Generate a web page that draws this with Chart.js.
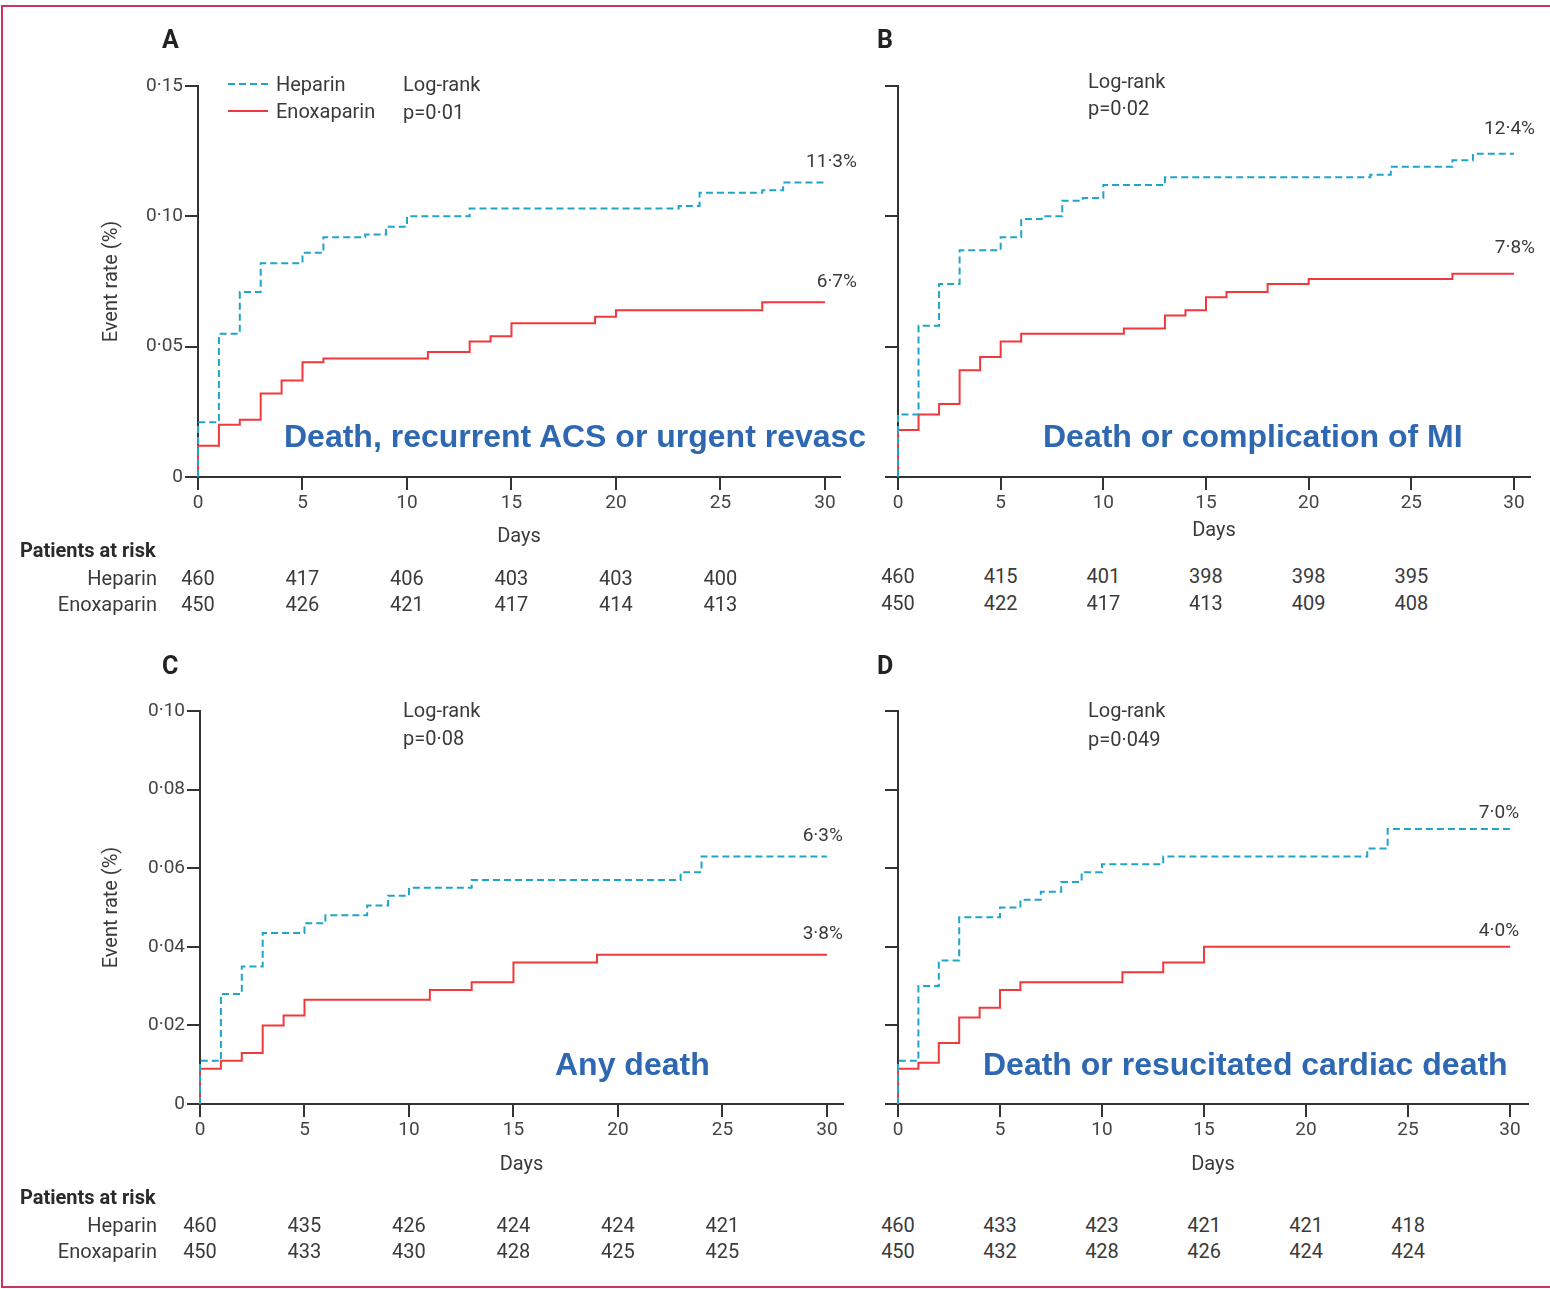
<!DOCTYPE html>
<html>
<head>
<meta charset="utf-8">
<title>Kaplan-Meier event rates: heparin vs enoxaparin</title>
<script src="https://cdn.jsdelivr.net/npm/chart.js@4.4.1/dist/chart.umd.min.js"></script>
<style>
  html, body { margin: 0; padding: 0; background: #fff; }
  #page { position: relative; width: 1550px; height: 1289px; overflow: hidden;
          font-family: Roboto, "Liberation Sans", sans-serif; color: #3a3a3a; }
  #frame { position: absolute; left: 1px; top: 5px; width: 1600px; height: 1279px;
           border: 2px solid #c8365f; border-right: none; }
  canvas { position: absolute; }
  .t { position: absolute; white-space: nowrap; font-size: 20px; line-height: 24px;
       transform: translateY(-50%); }
  .r { transform: translate(-100%, -50%); }
  .c { transform: translate(-50%, -50%); }
  .letter { font-weight: bold; font-size: 25px; color: #222; }
  .bold { font-weight: bold; color: #2a2a2a; }
  .headline { font-family: "Liberation Sans", Arial, sans-serif; font-weight: bold;
              font-size: 32px; line-height: 38px; color: #2e67b2; }
  .sample { position: absolute; width: 40px; height: 2px; }
</style>
</head>
<body>
<div id="page">
  <div id="frame"></div>

  <canvas id="chartA" width="870" height="540" style="left:0;top:20px;width:870px;height:540px"></canvas>
  <canvas id="chartB" width="680" height="534" style="left:870px;top:20px;width:680px;height:534px"></canvas>
  <canvas id="chartC" width="870" height="538" style="left:0;top:650px;width:870px;height:538px"></canvas>
  <canvas id="chartD" width="680" height="538" style="left:870px;top:650px;width:680px;height:538px"></canvas>

  <!-- panel letters -->
  <div class="t letter" style="left:162px;top:40px">A</div>
  <div class="t letter" style="left:877px;top:40px">B</div>
  <div class="t letter" style="left:162px;top:666px">C</div>
  <div class="t letter" style="left:877px;top:666px">D</div>

  <!-- legend -->
  <div class="sample" style="left:228px;top:83px;background:repeating-linear-gradient(90deg,#20a4c8 0 7px,transparent 7px 11px)"></div>
  <div class="t" style="left:276px;top:84px">Heparin</div>
  <div class="sample" style="left:228px;top:110px;background:#f0393c"></div>
  <div class="t" style="left:276px;top:111px">Enoxaparin</div>

  <!-- log-rank tests -->
  <div class="t" style="left:403px;top:84px">Log-rank</div>
  <div class="t" style="left:403px;top:112px">p=0·01</div>
  <div class="t" style="left:1088px;top:81px">Log-rank</div>
  <div class="t" style="left:1088px;top:108px">p=0·02</div>
  <div class="t" style="left:403px;top:710px">Log-rank</div>
  <div class="t" style="left:403px;top:738px">p=0·08</div>
  <div class="t" style="left:1088px;top:710px">Log-rank</div>
  <div class="t" style="left:1088px;top:739px">p=0·049</div>

  <!-- endpoint headlines -->
  <div class="t headline" style="left:284px;top:436px">Death, recurrent ACS or urgent revasc</div>
  <div class="t headline" style="left:1043px;top:436px">Death or complication of MI</div>
  <div class="t headline" style="left:555px;top:1064px">Any death</div>
  <div class="t headline" style="left:983px;top:1064px">Death or resucitated cardiac death</div>

  <!-- patients-at-risk row labels -->
  <div class="t bold" style="left:20px;top:550px">Patients at risk</div>
  <div class="t r" style="left:157px;top:578px">Heparin</div>
  <div class="t r" style="left:157px;top:604px">Enoxaparin</div>
  <div class="t bold" style="left:20px;top:1197px">Patients at risk</div>
  <div class="t r" style="left:157px;top:1225px">Heparin</div>
  <div class="t r" style="left:157px;top:1251px">Enoxaparin</div>
</div>

<script>
// ---- x axis ----
const dayTicks = [0, 5, 10, 15, 20, 25, 30];
const riskDays = [0, 5, 10, 15, 20, 25];

// ---- y axis ticks ----
const rateTicksTop = [0, 0.05, 0.10, 0.15];
const rateTicksBottom = [0, 0.02, 0.04, 0.06, 0.08, 0.10];

// ---- A: death, recurrent ACS or urgent revascularisation ----
const heparinA_days = [0, 0, 1, 2, 3, 5, 6, 8, 9, 10, 13, 23, 24, 27, 28, 30];
const heparinA_rate = [0, 0.021, 0.055, 0.071, 0.082, 0.086, 0.092, 0.093, 0.096, 0.100, 0.103, 0.104, 0.109, 0.110, 0.113, 0.113];
const enoxaparinA_days = [0, 0, 1, 2, 3, 4, 5, 6, 11, 13, 14, 15, 19, 20, 27, 30];
const enoxaparinA_rate = [0, 0.012, 0.020, 0.022, 0.032, 0.037, 0.044, 0.0455, 0.048, 0.052, 0.054, 0.059, 0.0615, 0.064, 0.067, 0.067];

// ---- B: death or complication of MI ----
const heparinB_days = [0, 0, 1, 2, 3, 5, 6, 7, 8, 9, 10, 13, 23, 24, 27, 28, 30];
const heparinB_rate = [0, 0.024, 0.058, 0.074, 0.087, 0.092, 0.099, 0.100, 0.106, 0.107, 0.112, 0.115, 0.116, 0.119, 0.1215, 0.124, 0.124];
const enoxaparinB_days = [0, 0, 1, 2, 3, 4, 5, 6, 11, 13, 14, 15, 16, 18, 20, 27, 30];
const enoxaparinB_rate = [0, 0.018, 0.024, 0.028, 0.041, 0.046, 0.052, 0.055, 0.057, 0.062, 0.064, 0.069, 0.071, 0.074, 0.076, 0.078, 0.078];

// ---- C: any death ----
const heparinC_days = [0, 0, 1, 2, 3, 5, 6, 8, 9, 10, 13, 23, 24, 30];
const heparinC_rate = [0, 0.011, 0.028, 0.035, 0.0435, 0.046, 0.048, 0.0505, 0.053, 0.055, 0.057, 0.059, 0.063, 0.063];
const enoxaparinC_days = [0, 0, 1, 2, 3, 4, 5, 11, 13, 15, 19, 30];
const enoxaparinC_rate = [0, 0.009, 0.011, 0.013, 0.020, 0.0225, 0.0265, 0.029, 0.031, 0.036, 0.038, 0.038];

// ---- D: death or resuscitated cardiac death ----
const heparinD_days = [0, 0, 1, 2, 3, 5, 6, 7, 8, 9, 10, 13, 23, 24, 30];
const heparinD_rate = [0, 0.011, 0.030, 0.0365, 0.0475, 0.050, 0.052, 0.054, 0.0565, 0.059, 0.061, 0.063, 0.065, 0.070, 0.070];
const enoxaparinD_days = [0, 0, 1, 2, 3, 4, 5, 6, 11, 13, 15, 30];
const enoxaparinD_rate = [0, 0.009, 0.0105, 0.0155, 0.022, 0.0245, 0.029, 0.031, 0.0335, 0.036, 0.040, 0.040];

// ---- patients at risk ----
const riskHeparinA = [460, 417, 406, 403, 403, 400];
const riskEnoxaparinA = [450, 426, 421, 417, 414, 413];
const riskHeparinB = [460, 415, 401, 398, 398, 395];
const riskEnoxaparinB = [450, 422, 417, 413, 409, 408];
const riskHeparinC = [460, 435, 426, 424, 424, 421];
const riskEnoxaparinC = [450, 433, 430, 428, 425, 425];
const riskHeparinD = [460, 433, 423, 421, 421, 418];
const riskEnoxaparinD = [450, 432, 428, 426, 424, 424];

const HEPARIN_COLOR = '#20a4c8';
const ENOX_COLOR = '#f0393c';
const AXIS_COLOR = '#333333';
const FONT = 'Roboto, "Liberation Sans", sans-serif';

const toPoints = (days, rate) => days.map((d, i) => ({ x: d, y: rate[i] }));
const fmtRate = v => (v === 0 ? '0' : v.toFixed(2).replace('.', '·'));

// Writes the final cumulative rate next to the end of each curve.
const endLabels = {
  id: 'endLabels',
  afterDatasetsDraw(chart, args, opts) {
    const { ctx, scales: { x, y } } = chart;
    ctx.save();
    ctx.font = '19px ' + FONT;
    ctx.fillStyle = '#3a3a3a';
    ctx.textAlign = 'right';
    ctx.textBaseline = 'middle';
    chart.data.datasets.forEach(ds => {
      const last = ds.data[ds.data.length - 1];
      const text = (last.y * 100).toFixed(1).replace('.', '·') + '%';
      ctx.fillText(text, x.getPixelForValue(last.x) + opts.dx, y.getPixelForValue(last.y) - opts.dy);
    });
    ctx.restore();
  }
};

function makePanel(id, p) {
  const gridStyle = { display: true, drawOnChartArea: false, drawTicks: true,
                      tickLength: 13, color: AXIS_COLOR, lineWidth: 2 };
  const borderStyle = { display: true, color: AXIS_COLOR, width: 2 };
  return new Chart(document.getElementById(id), {
    type: 'line',
    data: {
      datasets: [
        { label: 'Heparin', data: p.heparin, borderColor: HEPARIN_COLOR, borderWidth: 2,
          borderDash: [7, 4], stepped: true, pointRadius: 0, fill: false, clip: false },
        { label: 'Enoxaparin', data: p.enox, borderColor: ENOX_COLOR, borderWidth: 2,
          stepped: true, pointRadius: 0, fill: false, clip: false }
      ]
    },
    options: {
      responsive: false,
      animation: false,
      devicePixelRatio: 1,
      layout: { padding: { top: p.padTop, right: p.padRight, left: 0, bottom: 0 } },
      plugins: { legend: { display: false }, tooltip: { enabled: false }, endLabels: p.endLabel },
      scales: {
        x: {
          type: 'linear', min: 0, max: p.xMax,
          grid: gridStyle, border: borderStyle,
          ticks: { includeBounds: false, padding: 2, color: '#444', font: { family: FONT, size: 19 },
                   maxRotation: 0, callback: v => String(v) },
          afterBuildTicks: s => { s.ticks = dayTicks.map(v => ({ value: v })); },
          afterFit: s => { s.height = p.xHeight; },
          title: { display: true, text: 'Days', color: '#3a3a3a', font: { family: FONT, size: 20 },
                   padding: { top: 0, bottom: 11 } }
        },
        y: {
          type: 'linear', min: 0, max: p.yMax,
          grid: gridStyle, border: borderStyle,
          ticks: { display: p.yLabels, padding: 2, color: '#444', font: { family: FONT, size: 19 },
                   callback: v => fmtRate(v) },
          afterBuildTicks: s => { s.ticks = p.yTicks.map(v => ({ value: v })); },
          afterFit: s => { s.width = p.yWidth; },
          title: { display: p.yLabels, text: 'Event rate (%)', color: '#3a3a3a',
                   font: { family: FONT, size: 20 }, padding: { top: 100, bottom: 0 } }
        }
      }
    },
    plugins: [endLabels]
  });
}

const panels = [
  { id: 'chartA', left: 0, top: 20, riskY: [578, 604], riskH: riskHeparinA, riskE: riskEnoxaparinA,
    cfg: { heparin: toPoints(heparinA_days, heparinA_rate), enox: toPoints(enoxaparinA_days, enoxaparinA_rate),
           yMax: 0.15, yTicks: rateTicksTop, yLabels: true, xMax: 30.72,
           padTop: 66, padRight: 30, yWidth: 198, xHeight: 83, endLabel: { dx: 32, dy: 20 } } },
  { id: 'chartB', left: 870, top: 20, riskY: [576, 603], riskH: riskHeparinB, riskE: riskEnoxaparinB,
    cfg: { heparin: toPoints(heparinB_days, heparinB_rate), enox: toPoints(enoxaparinB_days, enoxaparinB_rate),
           yMax: 0.15, yTicks: rateTicksTop, yLabels: false, xMax: 30.78,
           padTop: 66, padRight: 20, yWidth: 28, xHeight: 77, endLabel: { dx: 21, dy: 25 } } },
  { id: 'chartC', left: 0, top: 650, riskY: [1225, 1251], riskH: riskHeparinC, riskE: riskEnoxaparinC,
    cfg: { heparin: toPoints(heparinC_days, heparinC_rate), enox: toPoints(enoxaparinC_days, enoxaparinC_rate),
           yMax: 0.10, yTicks: rateTicksBottom, yLabels: true, xMax: 30.77,
           padTop: 61, padRight: 27, yWidth: 200, xHeight: 84, endLabel: { dx: 16, dy: 20 } } },
  { id: 'chartD', left: 870, top: 650, riskY: [1225, 1251], riskH: riskHeparinD, riskE: riskEnoxaparinD,
    cfg: { heparin: toPoints(heparinD_days, heparinD_rate), enox: toPoints(enoxaparinD_days, enoxaparinD_rate),
           yMax: 0.10, yTicks: rateTicksBottom, yLabels: false, xMax: 30.88,
           padTop: 61, padRight: 22, yWidth: 28, xHeight: 84, endLabel: { dx: 9, dy: 16 } } }
];

const page = document.getElementById('page');
panels.forEach(panel => {
  const chart = makePanel(panel.id, panel.cfg);
  // Patients-at-risk numbers sit under the matching day on the x scale.
  riskDays.forEach((d, i) => {
    const px = panel.left + chart.scales.x.getPixelForValue(d);
    [[panel.riskH[i], panel.riskY[0]], [panel.riskE[i], panel.riskY[1]]].forEach(([n, y]) => {
      const el = document.createElement('div');
      el.className = 't c';
      el.style.left = px + 'px';
      el.style.top = y + 'px';
      el.textContent = String(n);
      page.appendChild(el);
    });
  });
});
</script>
</body>
</html>
